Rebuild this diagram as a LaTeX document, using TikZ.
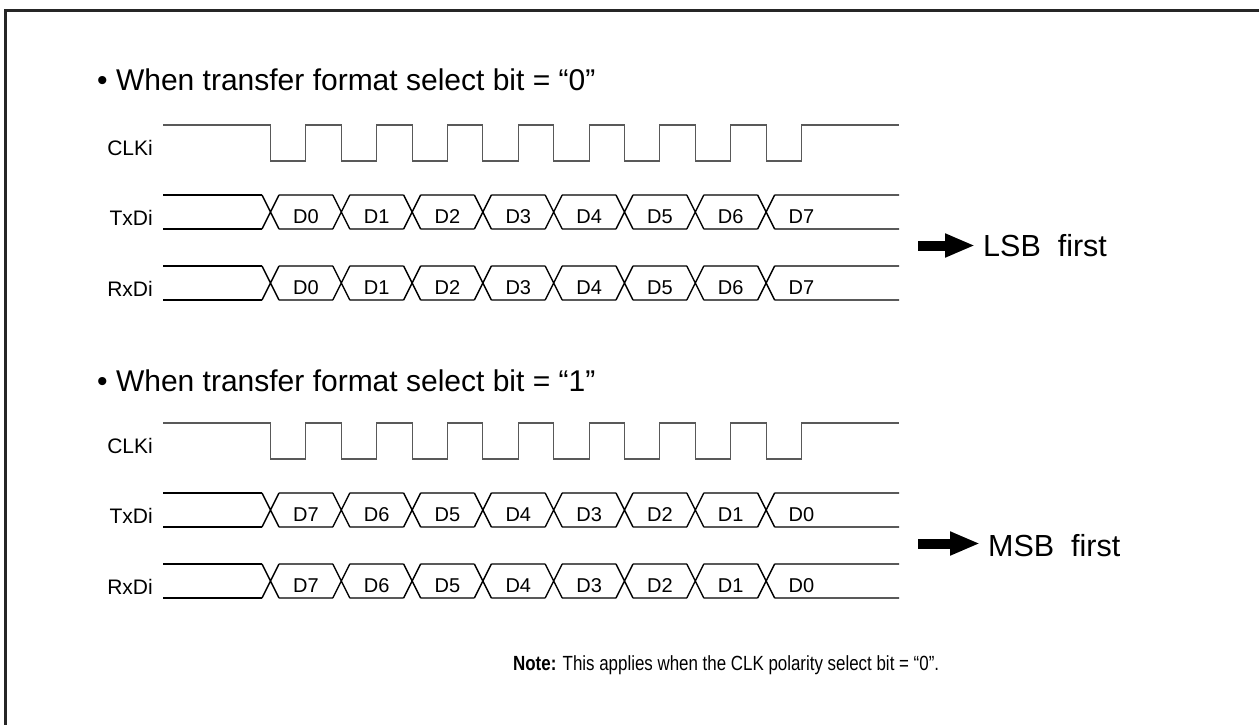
\documentclass[tikz,border=0pt]{standalone}
\usepackage{fontspec}
\setmainfont{Liberation Sans}
\usetikzlibrary{arrows.meta, positioning, calc}

\begin{document}
\begin{tikzpicture}[
    x=1pt, y=-1pt,
    frame/.style={draw=black!85, line width=2.5pt},
    clk/.style={draw=black!65, line width=1.1pt},
    bus/.style={draw=black, line width=1.4pt},
    heading/.style={anchor=base west, inner sep=0pt, font=\fontsize{30}{36}\selectfont},
    siglabel/.style={anchor=base east, inner sep=0pt, font=\fontsize{21}{25}\selectfont},
    bitlabel/.style={anchor=base, inner sep=0pt, font=\fontsize{20}{24}\selectfont},
    order/.style={anchor=base west, inner sep=0pt, font=\fontsize{30.5}{36}\selectfont},
    fat/.style={line width=10pt, -{Triangle[length=30pt, width=22pt]}, shorten >=8pt}
]
\useasboundingbox (0,0) rectangle (1259,725);
\draw[frame] (5.5,10.5) rectangle (1300,760);

% two timing charts, LSB first and MSB first
\foreach \s/\dy/\sel/\ord/\ox in {0/0/0/LSB/983, 1/298/1/MSB/988} {
  \node[heading] (head\s) at (97,{91+1.01*\dy}) {• When transfer format select bit = “\sel”};

  % clock
  \node[siglabel] (clk\s) at (153,{155+\dy}) {CLKi};
  \draw[clk] (163,{125+\dy})
    \foreach \k in {0,...,7} { -- ({270.5+70.8*\k},{125+\dy}) -- ++(0,36) -- ++(35.4,0) -- ++(0,-36) }
    -- (899,{125+\dy});

  % data lines
  \foreach \r/\top/\name/\txt in {0/195/txd/TxDi, 1/266/rxd/RxDi} {
    \node[siglabel] (\name\s) at (153,{\top+30.5+\dy}) {\txt};
    \draw[bus] (163,{\top+\dy}) -- (262,{\top+\dy})
               (163,{\top+34+\dy}) -- (262,{\top+34+\dy});
    \foreach \k in {0,...,7} {
      \pgfmathsetmacro\c{270.5+70.8*\k}
      \pgfmathsetmacro\e{ifthenelse(\k==7,899,\c+70.8-8.5)}
      \pgfmathtruncatemacro\n{ifthenelse(\s==0,\k,7-\k)}
      \draw[bus] (\c-8.5,{\top+\dy}) -- (\c+8.5,{\top+34+\dy})
                 (\c-8.5,{\top+34+\dy}) -- (\c+8.5,{\top+\dy})
                 (\c+8.5,{\top+\dy}) -- (\e,{\top+\dy})
                 (\c+8.5,{\top+34+\dy}) -- (\e,{\top+34+\dy});
      \node[bitlabel] (bit\s-\r-\k) at (\c+35.4,{\top+28+\dy}) {D\n};
    }
  }

  % bit order
  \node[order] (ord\s) at (\ox,{256.7+1.005*\dy}) {\ord\ \ first};
  \coordinate (tail\s) at (918,{245.5+\dy});
  \draw[fat] (tail\s) -- (tail\s -| ord\s.west);
}

\node[anchor=base west, inner sep=0pt, font=\fontsize{20.5}{24}\selectfont] (note) at (513,670)
  {\scalebox{0.825}[1]{\textbf{Note:} This applies when the CLK polarity select bit = “0”.}};
\end{tikzpicture}
\end{document}
